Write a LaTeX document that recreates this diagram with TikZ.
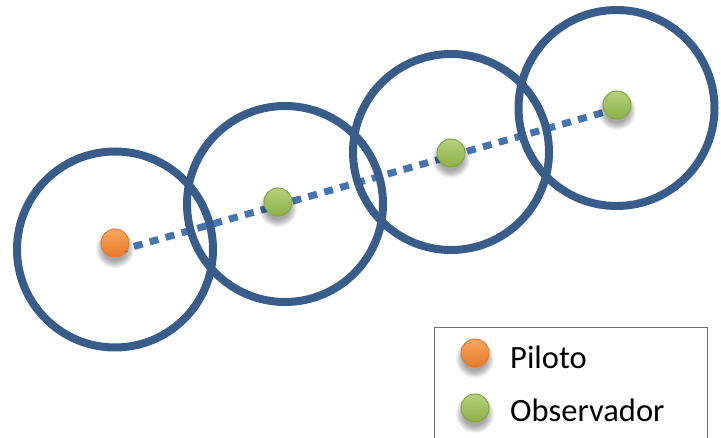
\documentclass[tikz,border=0pt]{standalone}
\usepackage{fontspec}
\setmainfont{Carlito}
\begin{document}
\begin{tikzpicture}[x=1pt,y=-1pt,
  ring/.style={draw=ringblue,line width=8pt},
  dotbase/.style={circle,minimum size=28pt,inner sep=0pt,line width=1pt},
  pilot/.style={dotbase,draw=pilotedge,top color=pilottop,bottom color=pilotbot},
  observer/.style={dotbase,draw=obsedge,top color=obstop,bottom color=obsbot},
  link/.style={draw=linkblue,line width=7pt,dash pattern=on 9pt off 7.5pt},
  legtext/.style={anchor=base west,inner sep=0pt,font=\fontsize{32.5}{36}\selectfont}
]
\definecolor{ringblue}{RGB}{56,93,138}
\definecolor{linkblue}{RGB}{70,116,176}
\definecolor{pilottop}{RGB}{250,168,94}
\definecolor{pilotbot}{RGB}{232,120,40}
\definecolor{pilotedge}{RGB}{228,120,50}
\definecolor{obstop}{RGB}{180,210,122}
\definecolor{obsbot}{RGB}{140,176,72}
\definecolor{obsedge}{RGB}{130,165,70}
\definecolor{legborder}{RGB}{110,110,110}
\useasboundingbox (0,0) rectangle (721,438);
\clip (0,0) rectangle (721,438);
% connector
\coordinate (ls) at (118,251);
\coordinate (le) at (612,110);
\draw[link] (ls) -- (le);
% rings
\draw[ring] (115,249.5) circle[radius=98];
\draw[ring] (285,204) circle[radius=98];
\draw[ring] (451,152) circle[radius=98];
\draw[ring] (616.5,108) circle[radius=98];
% legend frame
\draw[legborder,line width=1pt] (434,328) rectangle (707,460);
% shadows
\foreach \px/\py in {115/243,278/202,451/153,617/105,475/353,475/408}{
  \foreach \r in {19,18,17,16,15,14,13,12}{
    \fill[black,opacity=0.05] (\px,\py+6) circle[radius=\r];
  }
}
% dots
\node[pilot] (p) at (115,243) {};
\node[observer] (o1) at (278,202) {};
\node[observer] (o2) at (451,153) {};
\node[observer] (o3) at (617,105) {};
% legend
\node[pilot] (lp) at (475,353) {};
\node[observer] (lo) at (475,408) {};
\node[legtext] (tp) at (510,369) {Piloto};
\node[legtext] (to) at (510,422) {Observador};
\end{tikzpicture}
\end{document}
